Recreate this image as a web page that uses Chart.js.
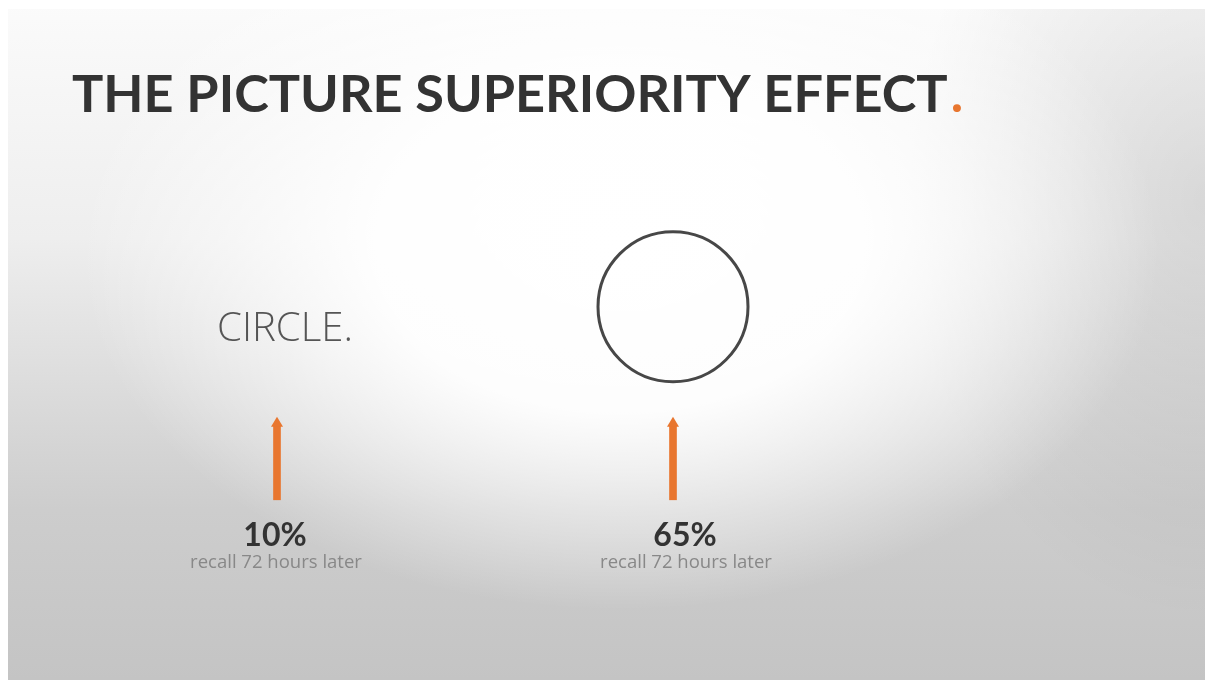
<!DOCTYPE html>
<html>
<head>
<meta charset="utf-8">
<script src="https://cdn.jsdelivr.net/npm/chart.js@4"></script>
<style>
  html, body { margin: 0; padding: 0; background: #fff; }
  canvas { display: block; }
</style>
</head>
<body>
<canvas id="recall" width="1205" height="680"></canvas>
<script>
// what is remembered 72 hours later
const categories = ['Word', 'Picture'];
const recallPct = [10, 65];
const recallNote = 'recall 72 hours later';
const wordLabel = 'CIRCLE.';
const titleText = 'THE PICTURE SUPERIORITY EFFECT';

// layout scale (0 = bottom, 100 = top)
const arrowSpan = [26.5, 37.4];
const circleLevel = [null, 54.9];
const wordLevel = 51.5;
const pctLevel = 21.2;
const noteLevel = 17.2;

const ORANGE = '#e8762f';

// fit text to a width by changing font size
function fitFont(ctx, text, weight, family, width) {
  ctx.font = `${weight} 20px ${family}`;
  const s = 20 * width / ctx.measureText(text).width;
  ctx.font = `${weight} ${s}px ${family}`;
}

const slideBackground = {
  id: 'slideBackground',
  beforeDraw(chart) {
    const ctx = chart.ctx;
    const w = chart.width, h = chart.height;
    ctx.save();
    ctx.fillStyle = '#fff';
    ctx.fillRect(0, 0, w, h);
    ctx.beginPath();
    ctx.rect(8, 9, w - 8, h - 9);
    ctx.clip();

    // top light, bottom grey
    const lin = ctx.createLinearGradient(0, 0, 0, h);
    lin.addColorStop(0, '#fbfbfb');
    lin.addColorStop(0.35, '#eeeeee');
    lin.addColorStop(0.75, '#cdcdcd');
    lin.addColorStop(1, '#c4c4c4');
    ctx.fillStyle = lin;
    ctx.fillRect(0, 0, w, h);

    // upper right shading
    ctx.save();
    ctx.translate(w, 200);
    ctx.scale(1, 1.4);
    const side = ctx.createRadialGradient(0, 0, 0, 0, 0, 300);
    side.addColorStop(0, 'rgba(0,0,0,0.1)');
    side.addColorStop(1, 'rgba(0,0,0,0)');
    ctx.fillStyle = side;
    ctx.fillRect(-400, -400, 800, 800);
    ctx.restore();

    // white glow behind the content
    ctx.save();
    ctx.translate(620, 250);
    ctx.scale(1.5, 1);
    const g = ctx.createRadialGradient(0, 0, 0, 0, 0, 360);
    g.addColorStop(0, 'rgba(255,255,255,1)');
    g.addColorStop(0.45, 'rgba(255,255,255,0.95)');
    g.addColorStop(1, 'rgba(255,255,255,0)');
    ctx.fillStyle = g;
    ctx.fillRect(-600, -600, 1200, 1200);
    ctx.restore();
    ctx.restore();
  }
};

const slideText = {
  id: 'slideText',
  afterDatasetsDraw(chart) {
    const ctx = chart.ctx;
    const x = chart.scales.x, y = chart.scales.y;
    ctx.save();

    // title with orange full stop
    fitFont(ctx, titleText, 700, 'Lato', 876);
    ctx.textBaseline = 'alphabetic';
    ctx.textAlign = 'left';
    ctx.fillStyle = '#333';
    ctx.fillText(titleText, 72, 112);
    const tw = ctx.measureText(titleText).width;
    ctx.fillStyle = ORANGE;
    ctx.fillText('.', 72 + tw + 3, 112);

    // word label
    ctx.textAlign = 'center';
    ctx.textBaseline = 'middle';
    fitFont(ctx, wordLabel, 300, '"Open Sans"', 136);
    ctx.fillStyle = '#555';
    ctx.fillText(wordLabel, x.getPixelForValue(0) + 8, y.getPixelForValue(wordLevel));

    // arrow heads
    const bars = chart.getDatasetMeta(0).data;
    ctx.fillStyle = ORANGE;
    bars.forEach(b => {
      ctx.beginPath();
      ctx.moveTo(b.x - 6, b.y + 1);
      ctx.lineTo(b.x + 6, b.y + 1);
      ctx.lineTo(b.x, b.y - 9);
      ctx.closePath();
      ctx.fill();
    });

    // percentages
    categories.forEach((c, i) => {
      const cx = x.getPixelForValue(i) + (i === 1 ? 12 : -2);
      ctx.fillStyle = '#333';
      ctx.font = '700 32px Lato';
      ctx.fillText(recallPct[i] + '%', cx, y.getPixelForValue(pctLevel));
      ctx.fillStyle = '#888';
      fitFont(ctx, recallNote, 400, '"Open Sans"', 172);
      ctx.fillText(recallNote, cx + 1, y.getPixelForValue(noteLevel));
    });
    ctx.restore();
  }
};

new Chart(
  document.getElementById('recall'),
  {
    type: 'bar',
    data: {
      labels: categories,
      datasets: [
        {
          label: 'arrow',
          data: categories.map(() => arrowSpan),
          backgroundColor: ORANGE,
          barThickness: 7,
          borderSkipped: false
        },
        {
          type: 'line',
          label: 'picture',
          data: circleLevel,
          showLine: false,
          pointRadius: 75,
          pointBorderWidth: 3,
          pointBorderColor: '#474747',
          pointBackgroundColor: 'rgba(255,255,255,0)'
        }
      ]
    },
    options: {
      responsive: false,
      animation: false,
      events: [],
      layout: { autoPadding: false, padding: { left: 79, right: 334, top: 0, bottom: 0 } },
      plugins: {
        legend: { display: false },
        tooltip: { enabled: false }
      },
      scales: {
        x: { display: false },
        y: { display: false, min: 0, max: 100 }
      }
    },
    plugins: [slideBackground, slideText]
  }
);
</script>
</body>
</html>
